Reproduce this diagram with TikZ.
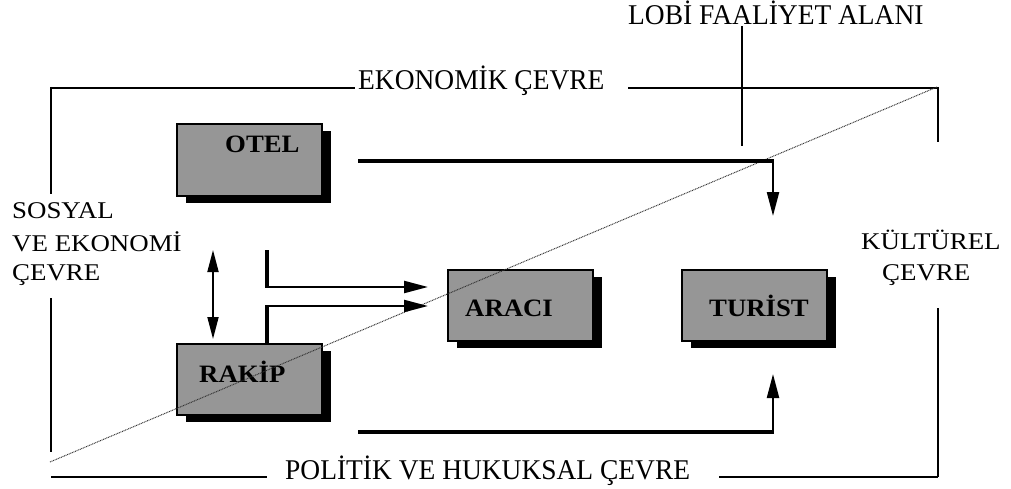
\documentclass[tikz,border=0pt]{standalone}
\usepackage{fontspec}
\setmainfont{Liberation Serif}
\newfontfamily\sidefont[FakeStretch=1.12]{Liberation Serif}
\newfontfamily\capfont[FakeStretch=0.96]{Liberation Serif}
\newfontfamily\boxfont[FakeStretch=1.07]{Liberation Serif}
\usetikzlibrary{arrows.meta,shadows}

\begin{document}
\begin{tikzpicture}[x=1pt,y=-1pt,
  frame/.style={line width=2.6pt},
  box/.style={draw=black, line width=2pt, fill=black!41, minimum width=145pt,
    minimum height=71pt, inner sep=0pt,
    general shadow={fill=black, shadow xshift=9pt, shadow yshift=-7pt}},
  boxlbl/.style={anchor=base west, inner sep=0pt,
    font=\boxfont\bfseries\fontsize{25}{28}\selectfont},
  title/.style={anchor=base west, inner sep=0pt, font=\capfont\fontsize{28.6}{30}\selectfont},
  side/.style={anchor=base west, inner sep=0pt, font=\sidefont\fontsize{24}{28}\selectfont},
  feed/.style={line width=4.8pt},
  tip/.style={line width=2.2pt, -{Triangle[length=24pt,width=12pt]}},
  both/.style={line width=1.8pt, {Triangle[length=22pt,width=11pt]}-{Triangle[length=22pt,width=11pt]}},
  dotline/.style={black!80, line width=1pt, dash pattern=on 0.9pt off 0.8pt}
]
\useasboundingbox (0,0) rectangle (1011,489);

% environment frame
\draw[frame] (51,88) -- (355,88);
\draw[frame] (628,88) -- (938,88);
\draw[frame] (51,87) -- (51,194);
\draw[frame] (51,298) -- (51,452);
\draw[frame] (938,87) -- (938,142);
\draw[frame] (938,308) -- (938,477);
\draw[frame] (51,477) -- (267,477);
\draw[frame] (719,477) -- (938,477);
\draw[frame] (742,26) -- (742,146);

% frame captions
\node[title] (lobi) at (628,25) {LOBİ FAALİYET ALANI};
\node[title] (eko) at (358,90) {EKONOMİK ÇEVRE};
\node[title] (pol) at (285,479) {POLİTİK VE HUKUKSAL ÇEVRE};
\node[side] (sos1) at (12,218) {SOSYAL};
\node[side] (sos2) at (12,251) {VE EKONOMİ};
\node[side] (sos3) at (12,280) {ÇEVRE};
\node[side] (kul1) at (861,249) {KÜLTÜREL};
\node[side] (kul2) at (882,280) {ÇEVRE};

% actors
\node[box] (otel) at (249,160) {};
\node[box] (rakip) at (249.5,379) {};
\node[box] (araci) at (520,305) {};
\node[box] (turist) at (754.5,305) {};
\node[boxlbl] (otelt) at (225,153) {OTEL};
\node[boxlbl] (rakipt) at (199,382) {RAKİP};
\node[boxlbl] (aracit) at (465,316) {ARACI};
\node[boxlbl] (turistt) at (709,316) {TURİST};

% diagonal divider
\draw[dotline] (50,462) -- (937,87);

% connector end points
\coordinate (oA) at (358,161);
\coordinate (oB) at (774,161);
\coordinate (oC) at (773,161);
\coordinate (tTop) at (773,216);
\coordinate (rA) at (358,432);
\coordinate (rB) at (774,432);
\coordinate (rC) at (773,432);
\coordinate (tBot) at (773,374);
\coordinate (dTop) at (213,250);
\coordinate (dBot) at (213,339);
\coordinate (uA) at (267,250);
\coordinate (uB) at (267,287);
\coordinate (uTip) at (428,287);
\coordinate (lB) at (267,306);
\coordinate (lTip) at (428,306);

% hotel to tourist
\draw[feed] (oA) -- (oB);
\draw[tip] (oC) -- (tTop);
% competitor to tourist
\draw[feed] (rA) -- (rB);
\draw[tip] (rC) -- (tBot);
% hotel <-> competitor
\draw[both] (dTop) -- (dBot);
% feeds into the intermediary
\draw[feed] (uA) -- ([yshift=-1pt]uB);
\draw[tip] ([xshift=-1pt]uB) -- (uTip);
\draw[feed] (rakip.north -| lB) -- ([yshift=1pt]lB);
\draw[tip] ([xshift=-1pt]lB) -- (lTip);
\end{tikzpicture}
\end{document}
